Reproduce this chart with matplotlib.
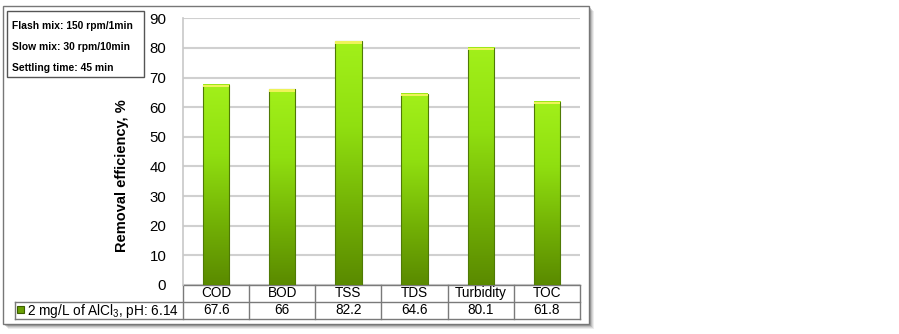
import numpy as np
import matplotlib
matplotlib.use("Agg")
import matplotlib.pyplot as plt
from matplotlib.colors import LinearSegmentedColormap
from matplotlib.patches import Rectangle
from matplotlib.transforms import blended_transform_factory

categories = ["COD", "BOD", "TSS", "TDS", "Turbidity", "TOC"]
removal = [67.6, 66, 82.2, 64.6, 80.1, 61.8]
value_labels = ["67.6", "66", "82.2", "64.6", "80.1", "61.8"]
yticks = [0, 10, 20, 30, 40, 50, 60, 70, 80, 90]
series_label = "2 mg/L of AlCl$_3$, pH: 6.14"
conditions = ["Flash mix: 150 rpm/1min", "Slow mix: 30 rpm/10min",
              "Settling time: 45 min"]

plt.rcParams["font.family"] = ["Liberation Sans", "DejaVu Sans"]
plt.rcParams["mathtext.fontset"] = "custom"
plt.rcParams["mathtext.rm"] = "Liberation Sans"

W, H = 899, 334
fig = plt.figure(figsize=(W / 100, H / 100), dpi=100)


def fx(px):
    return px / W


def fy(py):
    return 1 - py / H


# outer chart frame with soft shadow
for i, a in enumerate([0.10, 0.14, 0.20, 0.30]):
    off = 5 - i
    fig.patches.append(Rectangle((fx(3 + off), fy(324 + off)), fx(586), 318 / H,
                                 transform=fig.transFigure, facecolor="#555555",
                                 edgecolor="none", alpha=a, zorder=0))
fig.patches.append(Rectangle((fx(3), fy(324)), fx(586), 318 / H,
                             transform=fig.transFigure, facecolor="white",
                             edgecolor="#777777", lw=1.0, zorder=1))

# plot area
x0, x1, ytop, ybot = 183, 580, 18.3, 285
ax = fig.add_axes([fx(x0), fy(ybot), fx(x1 - x0), (ybot - ytop) / H])
ax.set_zorder(2)
ax.patch.set_alpha(0)
ax.set_xlim(-0.5, len(categories) - 0.5)
ax.set_ylim(0, 90)
ax.set_yticks(yticks)
ax.set_xticks([])
ax.tick_params(axis="y", length=0, pad=12, labelsize=10.8)
for s in ("top", "right", "bottom"):
    ax.spines[s].set_visible(False)
ax.spines["left"].set_color("#c8c8c8")
ax.spines["left"].set_linewidth(1.2)
ax.yaxis.grid(True, color="#d0d0d0", lw=1.5)
ax.set_axisbelow(True)
ax.set_ylabel("Removal efficiency, %", fontsize=10.5, fontweight="bold")
ax.yaxis.set_label_coords(-(x0 - 129) / (x1 - x0), (ybot - 176) / (ybot - ytop))

green = LinearSegmentedColormap.from_list(
    "g", [(0, "#5a8a00"), (0.3, "#72b005"), (0.65, "#90df10"), (1, "#a2f01a")])
grad = np.linspace(0, 1, 256).reshape(-1, 1)
bw = 0.4
for i, v in enumerate(removal):
    ax.imshow(grad, cmap=green, origin="lower", aspect="auto",
              extent=(i - bw / 2, i + bw / 2, 0, v), zorder=3)
    ax.add_patch(Rectangle((i - bw / 2, 0), bw, v, facecolor="none",
                           edgecolor="#4f7a05", lw=0.8, zorder=4))
    ax.add_patch(Rectangle((i - bw / 2, v - 0.8), bw, 0.8, facecolor="#eef35a",
                           edgecolor="none", zorder=5))
ax.set_xlim(-0.5, len(categories) - 0.5)
ax.set_ylim(0, 90)

# data table below the axis
tr = blended_transform_factory(ax.transData, ax.transAxes)
rh = 16.8 / (ybot - ytop)
leg_left = ax.transData.inverted().transform(
    (ax.transAxes.transform((0, 0))[0] - (x0 - 15), 0))[0]
lc = "#7a7a7a"
kw = dict(transform=tr, color=lc, lw=1.0, clip_on=False)
ax.plot([-0.5, 5.5], [0, 0], **kw)
ax.plot([leg_left, 5.5], [-rh, -rh], **kw)
ax.plot([leg_left, 5.5], [-2 * rh, -2 * rh], **kw)
ax.plot([leg_left, leg_left], [-rh, -2 * rh], **kw)
for b in np.arange(-0.5, 6.0, 1.0):
    ax.plot([b, b], [0, -2 * rh], **kw)
for i, (c, t) in enumerate(zip(categories, value_labels)):
    ax.text(i, -rh / 2, c, transform=tr, ha="center", va="center", fontsize=9.8)
    ax.text(i, -1.5 * rh, t, transform=tr, ha="center", va="center",
            fontsize=9.8)

fig.patches.append(Rectangle((fx(17), fy(313)), fx(7), 7 / H,
                             transform=fig.transFigure, facecolor="#6aa005",
                             edgecolor="#3d5e00", lw=0.8, zorder=3))
fig.text(fx(27), fy(310.5), series_label, ha="left", va="center", fontsize=9.8,
         zorder=3)

# conditions box
fig.patches.append(Rectangle((fx(7), fy(77)), fx(137), 66 / H,
                             transform=fig.transFigure, facecolor="white",
                             edgecolor="#555555", lw=1.0, zorder=3))
for t, yy in zip(conditions, [25.7, 46.7, 67.7]):
    fig.text(fx(12), fy(yy), t, ha="left", va="center", fontsize=7.4,
             fontweight="bold", zorder=4)

fig.savefig("out.png", dpi=100)
